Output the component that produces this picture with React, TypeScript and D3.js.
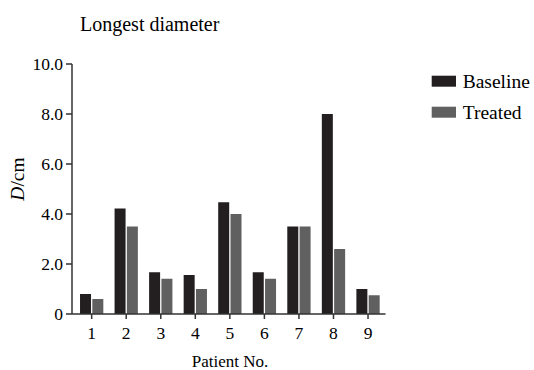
import React from "react";
import * as d3 from "d3";

const categories = ["1", "2", "3", "4", "5", "6", "7", "8", "9"];
const baseline = [0.8, 4.22, 1.67, 1.56, 4.47, 1.67, 3.5, 8.0, 1.0];
const treated = [0.6, 3.5, 1.41, 1.0, 4.0, 1.41, 3.5, 2.6, 0.75];
const yTicks = [0, 2, 4, 6, 8, 10];
const seriesNames = ["Baseline", "Treated"];
const colors = ["#231f20", "#606060"];

const W = 534;
const H = 370;
const FONT = "Liberation Serif, Times New Roman, serif";

export default function App() {
  const x = d3.scaleBand<string>().domain(categories).range([74.4, 385.3]).padding(0);
  const y = d3.scaleLinear().domain([0, 10]).range([314, 64]);
  const barW = 11;
  const gap = 1.3;
  const axisX = 72;
  const series = [baseline, treated];

  return (
    <svg
      width={W}
      height={H}
      style={{ position: "absolute", left: 0, top: 0, background: "#fff", fontFamily: FONT }}
    >
      <text x={80} y={31} fontSize={20} fill="#000">
        Longest diameter
      </text>

      {categories.map((c, i) => {
        const cx = (x(c) as number) + x.bandwidth() / 2;
        return series.map((s, k) => {
          const x0 = k === 0 ? cx - gap / 2 - barW : cx + gap / 2;
          return (
            <rect
              key={c + "-" + k}
              x={x0}
              y={y(s[i])}
              width={barW}
              height={y(0) - y(s[i])}
              fill={colors[k]}
            />
          );
        });
      })}

      <line x1={axisX} x2={axisX} y1={y(10)} y2={y(0)} stroke="#333" strokeWidth={1.5} />
      {yTicks.map((t) => (
        <g key={t}>
          <line x1={axisX - 6} x2={axisX} y1={y(t)} y2={y(t)} stroke="#333" strokeWidth={1.5} />
          <text x={63} y={y(t)} dy="0.35em" textAnchor="end" fontSize={17.5} fill="#000">
            {t === 0 ? "0" : t.toFixed(1)}
          </text>
        </g>
      ))}
      <text
        transform={`translate(24,${179}) rotate(-90)`}
        textAnchor="middle"
        fontSize={19.5}
        fill="#000"
      >
        <tspan fontStyle="italic">D</tspan>/cm
      </text>

      <line x1={axisX} x2={385.5} y1={y(0)} y2={y(0)} stroke="#333" strokeWidth={1.5} />
      {categories.map((c) => {
        const cx = (x(c) as number) + x.bandwidth() / 2;
        return (
          <g key={c}>
            <line x1={cx} x2={cx} y1={y(0)} y2={y(0) + 5} stroke="#333" strokeWidth={1.5} />
            <text x={cx} y={339} textAnchor="middle" fontSize={17.5} fill="#000">
              {c}
            </text>
          </g>
        );
      })}
      <text x={230} y={367} textAnchor="middle" fontSize={17} fill="#000">
        Patient No.
      </text>

      {seriesNames.map((n, k) => (
        <g key={n} transform={`translate(431.7,${75.7 + k * 31})`}>
          <rect x={0} y={0} width={24.3} height={11} fill={colors[k]} />
          <text x={31} y={12} fontSize={19.5} fill="#000">
            {n}
          </text>
        </g>
      ))}
    </svg>
  );
}
